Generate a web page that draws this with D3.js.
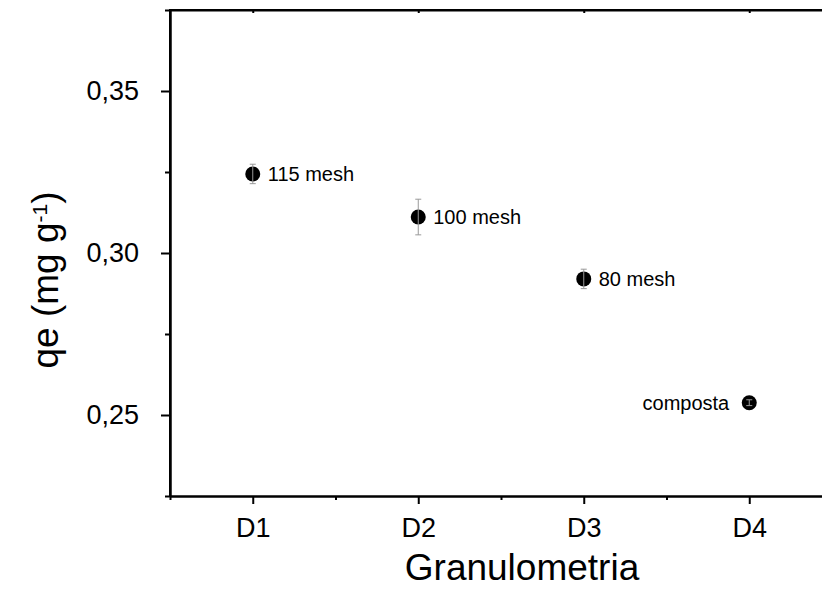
<!DOCTYPE html>
<html>
<head>
<meta charset="utf-8">
<script src="https://cdn.jsdelivr.net/npm/d3@7"></script>
<style>
  html, body { margin: 0; padding: 0; background: #fff; }
  svg { display: block; font-family: Arial, "Liberation Sans", sans-serif; }
</style>
</head>
<body>
<svg id="chart" width="822" height="589"></svg>
<script>
// Granulometry categories and adsorption capacity (mean ± error)
const categories = ["D1", "D2", "D3", "D4"];
const qeValues   = [0.3244, 0.3111, 0.2920, 0.2538];
const qeErrors   = [0.0030, 0.0055, 0.0030, 0.0009];
const pointLabels = ["115 mesh", "100 mesh", "80 mesh", "composta"];
const yTicks = [0.25, 0.30, 0.35];
const yMinorTicks = [0.225, 0.275, 0.325, 0.375];

const svg = d3.select("#chart");
const mLeft = 170, mTop = 10, mBottom = 496, mRight = 832;

const x = d3.scaleLinear().domain([0.5, 4.5]).range([mLeft, mRight]);
const y = d3.scaleLinear().domain([0.225, 0.375]).range([mBottom, mTop]);

const fmt = v => d3.format(".2f")(v).replace(".", ",");

// Bottom axis: major ticks at categories, minor halfway
const xMajor = categories.map((c, i) => i + 1);
const xMinor = [0.5, 1.5, 2.5, 3.5, 4.5];

const gx = svg.append("g").attr("transform", `translate(0,${mBottom})`);
gx.call(d3.axisBottom(x).tickValues(xMajor).tickFormat(d => categories[d - 1])
  .tickSize(8).tickSizeOuter(0).tickPadding(14));
gx.append("g").call(d3.axisBottom(x).tickValues(xMinor).tickFormat("").tickSize(4).tickSizeOuter(0));

// Top axis mirrors the bottom one with short inward ticks
const gt = svg.append("g").attr("transform", `translate(0,${mTop})`);
gt.call(d3.axisTop(x).tickValues(xMajor).tickFormat("").tickSize(-3).tickSizeOuter(0));

// Left axis
const gy = svg.append("g").attr("transform", `translate(${mLeft},0)`);
gy.call(d3.axisLeft(y).tickValues(yTicks).tickFormat(fmt).tickSize(9).tickSizeOuter(0).tickPadding(22));
gy.append("g").call(d3.axisLeft(y).tickValues(yMinorTicks).tickFormat("").tickSize(5).tickSizeOuter(0));

svg.selectAll(".domain").attr("stroke", "#000").attr("stroke-width", 2);
svg.selectAll(".tick line").attr("stroke", "#000").attr("stroke-width", 2);
svg.selectAll(".tick text").attr("fill", "#000").style("font-size", "27px")
  .style("font-family", "Arial, 'Liberation Sans', sans-serif");

// Frame lines extend full axis length
svg.append("line").attr("x1", mLeft - 1).attr("x2", mRight).attr("y1", mTop).attr("y2", mTop)
  .attr("stroke", "#000").attr("stroke-width", 2);
svg.append("line").attr("x1", mLeft).attr("x2", mLeft).attr("y1", mTop - 1).attr("y2", mBottom + 1)
  .attr("stroke", "#000").attr("stroke-width", 2);

// Axis titles
svg.append("text").attr("x", 522).attr("y", 580)
  .attr("text-anchor", "middle").style("font-size", "37px").text("Granulometria");

const yt = svg.append("text")
  .attr("transform", `translate(58,${(mTop + mBottom) / 2 + 27}) rotate(-90)`)
  .attr("text-anchor", "middle").style("font-size", "37px");
yt.append("tspan").text("qe (mg g");
yt.append("tspan").attr("baseline-shift", "super").style("font-size", "21px").text("-1");
yt.append("tspan").text(")");

// Data points
const data = categories.map((c, i) => ({ c, i: i + 1, v: qeValues[i], e: qeErrors[i], label: pointLabels[i] }));

const pts = svg.append("g");
pts.selectAll("circle").data(data).join("circle")
  .attr("cx", d => x(d.i)).attr("cy", d => y(d.v)).attr("r", 7.5).attr("fill", "#000");

// Error bars drawn over the markers
const eb = svg.append("g").attr("stroke", "#999").attr("stroke-width", 1);
eb.selectAll(".v").data(data).join("line")
  .attr("x1", d => x(d.i)).attr("x2", d => x(d.i))
  .attr("y1", d => y(d.v + d.e)).attr("y2", d => y(d.v - d.e));
eb.selectAll(".t").data(data).join("line")
  .attr("x1", d => x(d.i) - 3).attr("x2", d => x(d.i) + 3)
  .attr("y1", d => y(d.v + d.e)).attr("y2", d => y(d.v + d.e));
eb.selectAll(".b").data(data).join("line")
  .attr("x1", d => x(d.i) - 3).attr("x2", d => x(d.i) + 3)
  .attr("y1", d => y(d.v - d.e)).attr("y2", d => y(d.v - d.e));

// Point labels
svg.append("g").selectAll("text").data(data).join("text")
  .attr("x", d => d.i === 4 ? x(d.i) - 20 : x(d.i) + 15)
  .attr("y", d => y(d.v) + 7)
  .attr("text-anchor", d => d.i === 4 ? "end" : "start")
  .style("font-size", "20px").attr("fill", "#000")
  .text(d => d.label);
</script>
</body>
</html>
